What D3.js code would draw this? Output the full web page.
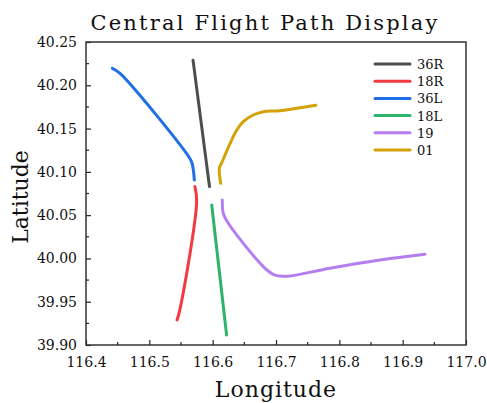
<!DOCTYPE html>
<html>
<head>
  <meta charset="utf-8">
  <script src="https://d3js.org/d3.v7.min.js"></script>
  <style>
    body { margin: 0; background: #fff; }
    text { font-family: "DejaVu Serif", "Liberation Serif", serif; fill: #111; }
  </style>
</head>
<body>
<script>
  // runway tracks, [longitude, latitude]
  var track36R = [[116.569, 40.229], [116.582, 40.156], [116.595, 40.083]];
  var track18R = [[116.572, 40.083], [116.5747, 40.0655], [116.548, 39.940], [116.5437, 39.929]];
  var track36L = [[116.4416, 40.2196], [116.4537, 40.2138], [116.5616, 40.1183], [116.567, 40.111],
                  [116.5695, 40.1021], [116.571, 40.0906]];
  var track18L = [[116.5985, 40.0617], [116.622, 39.9115]];
  var track19  = [[116.6152, 40.0675], [116.6168, 40.0521], [116.6247, 40.0406], [116.680, 39.9905],
                  [116.6963, 39.9812], [116.7063, 39.9797], [116.722, 39.9797], [116.785, 39.9886],
                  [116.864, 39.9982], [116.935, 40.0048]];
  var track01  = [[116.6127, 40.0868], [116.6105, 40.104], [116.614, 40.110], [116.638, 40.1483],
                  [116.6484, 40.158], [116.664, 40.1657], [116.68, 40.1695], [116.706, 40.1707],
                  [116.763, 40.177]];

  var seriesNames = ["36R", "18R", "36L", "18L", "19", "01"];
  var seriesTracks = [track36R, track18R, track36L, track18L, track19, track01];
  var seriesColors = ["#4d4d4d", "#f23a3f", "#1f6fe6", "#2eb36c", "#b57ef0", "#d4a106"];

  var xTicks = [116.4, 116.5, 116.6, 116.7, 116.8, 116.9, 117.0];
  var yTicks = [39.90, 39.95, 40.00, 40.05, 40.10, 40.15, 40.20, 40.25];

  var W = 487, H = 403;
  var mLeft = 86, mRight = 466, mTop = 42, mBottom = 345;

  var svg = d3.select("body").append("svg")
    .attr("width", W).attr("height", H);

  var x = d3.scaleLinear().domain([116.4, 117.0]).range([mLeft, mRight]);
  var y = d3.scaleLinear().domain([39.90, 40.25]).range([mBottom, mTop]);

  // tracks
  var line = d3.line()
    .x(function(d) { return x(d[0]); })
    .y(function(d) { return y(d[1]); })
    .curve(d3.curveCatmullRom.alpha(0.5));

  svg.selectAll("path.track")
    .data(seriesTracks)
    .enter().append("path")
    .attr("class", "track")
    .attr("d", function(d) { return line(d); })
    .attr("fill", "none")
    .attr("stroke", function(d, i) { return seriesColors[i]; })
    .attr("stroke-width", 3)
    .attr("stroke-linecap", "round")
    .attr("stroke-linejoin", "round");

  // axes (ticks pointing inward)
  var xAxis = d3.axisBottom(x)
    .tickValues(xTicks)
    .tickFormat(d3.format(".1f"))
    .tickSizeInner(-5).tickSizeOuter(0).tickPadding(12);
  var gx = svg.append("g")
    .attr("transform", "translate(0," + mBottom + ")")
    .call(xAxis);

  var yAxis = d3.axisLeft(y)
    .tickValues(yTicks)
    .tickFormat(d3.format(".2f"))
    .tickSizeInner(-5).tickSizeOuter(0).tickPadding(9);
  var gy = svg.append("g")
    .attr("transform", "translate(" + mLeft + ",0)")
    .call(yAxis);

  [gx, gy].forEach(function(g) {
    g.select(".domain").remove();
    g.selectAll("line").attr("stroke", "#222").attr("stroke-width", 1.2);
    g.selectAll("text").style("font-size", "14px").attr("fill", "#111");
  });

  // minor ticks
  var xMinor = d3.range(0, xTicks.length - 1).map(function(i) { return (xTicks[i] + xTicks[i + 1]) / 2; });
  var yMinor = d3.range(0, yTicks.length - 1).map(function(i) { return (yTicks[i] + yTicks[i + 1]) / 2; });
  svg.selectAll("line.xminor").data(xMinor).enter().append("line")
    .attr("x1", function(d) { return x(d); }).attr("x2", function(d) { return x(d); })
    .attr("y1", mBottom).attr("y2", mBottom - 3)
    .attr("stroke", "#222").attr("stroke-width", 1.2);
  svg.selectAll("line.yminor").data(yMinor).enter().append("line")
    .attr("y1", function(d) { return y(d); }).attr("y2", function(d) { return y(d); })
    .attr("x1", mLeft).attr("x2", mLeft + 3)
    .attr("stroke", "#222").attr("stroke-width", 1.2);

  // frame
  svg.append("rect")
    .attr("x", mLeft).attr("y", mTop)
    .attr("width", mRight - mLeft).attr("height", mBottom - mTop)
    .attr("fill", "none").attr("stroke", "#333").attr("stroke-width", 1.5);

  // title and axis labels
  svg.append("text")
    .attr("x", 265).attr("y", 30)
    .attr("text-anchor", "middle")
    .style("font-size", "21px")
    .style("letter-spacing", "2.2px")
    .text("Central Flight Path Display");

  svg.append("text")
    .attr("x", 276).attr("y", 397)
    .attr("text-anchor", "middle")
    .style("font-size", "22px")
    .style("letter-spacing", "1px")
    .text("Longitude");

  svg.append("text")
    .attr("transform", "translate(28,197) rotate(-90)")
    .attr("text-anchor", "middle")
    .style("font-size", "22px")
    .text("Latitude");

  // legend
  var legend = svg.append("g")
    .attr("transform", "translate(375,64)")
    .selectAll("g")
    .data(seriesNames)
    .enter().append("g")
    .attr("transform", function(d, i) { return "translate(0," + (i * 17.2) + ")"; });

  legend.append("line")
    .attr("x1", 0).attr("x2", 35)
    .attr("stroke", function(d, i) { return seriesColors[i]; })
    .attr("stroke-width", 3)
    .attr("stroke-linecap", "round");

  legend.append("text")
    .attr("x", 42).attr("y", 5)
    .style("font-size", "13px")
    .text(function(d) { return d; });
</script>
</body>
</html>
